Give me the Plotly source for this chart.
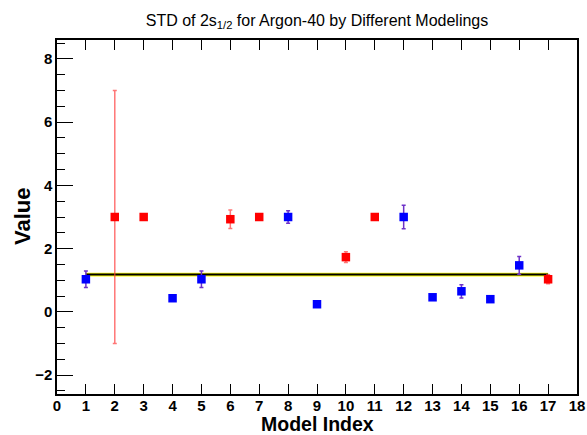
import plotly.graph_objects as go

# Standard deviation per model, split by marker colour
red_index = [2, 3, 6, 7, 10, 11, 17]
red_value = [3.0, 3.0, 2.93, 3.0, 1.73, 3.0, 1.03]
red_error = [4.0, 0.0, 0.29, 0.0, 0.17, 0.0, 0.14]

blue_index = [1, 4, 5, 8, 9, 12, 13, 14, 15, 16]
blue_value = [1.03, 0.43, 1.03, 3.0, 0.24, 3.0, 0.46, 0.65, 0.40, 1.47]
blue_error = [0.26, 0.0, 0.26, 0.2, 0.0, 0.37, 0.0, 0.21, 0.0, 0.28]

# Combined value with its uncertainty band
band_x = [1, 17]
mean_value = 1.18
mean_error = 0.06

x_ticks = list(range(0, 19))
y_ticks = [-2, 0, 2, 4, 6, 8]

FONT = "Liberation Sans"

fig = go.Figure()

# Yellow uncertainty band
fig.add_trace(go.Scatter(
    x=band_x, y=[mean_value - mean_error] * 2, mode="lines",
    line=dict(width=0, color="yellow"), showlegend=False, hoverinfo="skip"))
fig.add_trace(go.Scatter(
    x=band_x, y=[mean_value + mean_error] * 2, mode="lines",
    line=dict(width=0, color="yellow"), fill="tonexty",
    fillcolor="rgb(255,255,0)", showlegend=False, hoverinfo="skip"))
# Central value line
fig.add_trace(go.Scatter(
    x=band_x, y=[mean_value] * 2, mode="lines",
    line=dict(width=2, color="black"), showlegend=False))

fig.add_trace(go.Scatter(
    x=red_index, y=red_value, mode="markers",
    marker=dict(symbol="square", size=8.5, color="#ff0000"),
    error_y=dict(type="data", array=red_error, visible=True,
                 color="rgba(255,60,60,0.7)", thickness=1.5, width=2),
    showlegend=False))
fig.add_trace(go.Scatter(
    x=blue_index, y=blue_value, mode="markers",
    marker=dict(symbol="square", size=8.5, color="#0000ff"),
    error_y=dict(type="data", array=blue_error, visible=True,
                 color="rgb(110,50,200)", thickness=1.5, width=2),
    showlegend=False))

fig.update_layout(
    width=587, height=435,
    margin=dict(l=57, r=10, t=40, b=41, autoexpand=False),
    paper_bgcolor="white", plot_bgcolor="white",
    font=dict(family=FONT, color="black"),
    title=dict(
        text="STD of 2s<sub>1/2</sub> for Argon-40 by Different Modelings",
        x=0.5, xref="paper", xanchor="center",
        y=1 - 20 / 435, yref="container", yanchor="middle",
        font=dict(family=FONT, size=16, color="black")),
    annotations=[
        dict(text="<b>Model Index</b>", xref="paper", yref="paper",
             x=0.5, y=0, yshift=-29.5, xanchor="center", yanchor="middle",
             showarrow=False, borderpad=0, font=dict(family=FONT, size=19.5)),
        dict(text="<b>Value</b>", xref="paper", yref="paper",
             x=0, y=0.5, xshift=-35, xanchor="center", yanchor="middle",
             textangle=-90, showarrow=False, borderpad=0,
             font=dict(family=FONT, size=22)),
    ],
)

fig.update_xaxes(
    range=[0, 18], tickmode="array", tickvals=x_ticks, automargin=False,
    ticks="inside", ticklen=10, tickwidth=1.2, tickcolor="black",
    showline=True, linecolor="black", linewidth=1.5, mirror="ticks",
    showgrid=False, zeroline=False, ticklabelstandoff=-3,
    tickfont=dict(family=FONT, size=15, weight="bold"))

fig.update_yaxes(
    range=[-2.6, 8.6], tickmode="array", tickvals=y_ticks, automargin=False,
    ticks="inside", ticklen=16, tickwidth=1.2, tickcolor="black",
    minor=dict(dtick=0.5, ticks="inside", ticklen=8, tickwidth=1.2,
               tickcolor="black", showgrid=False),
    showline=True, linecolor="black", linewidth=1.5, mirror=True,
    showgrid=False, zeroline=False,
    tickfont=dict(family=FONT, size=15, weight="bold"))

fig.write_html("out.html")
